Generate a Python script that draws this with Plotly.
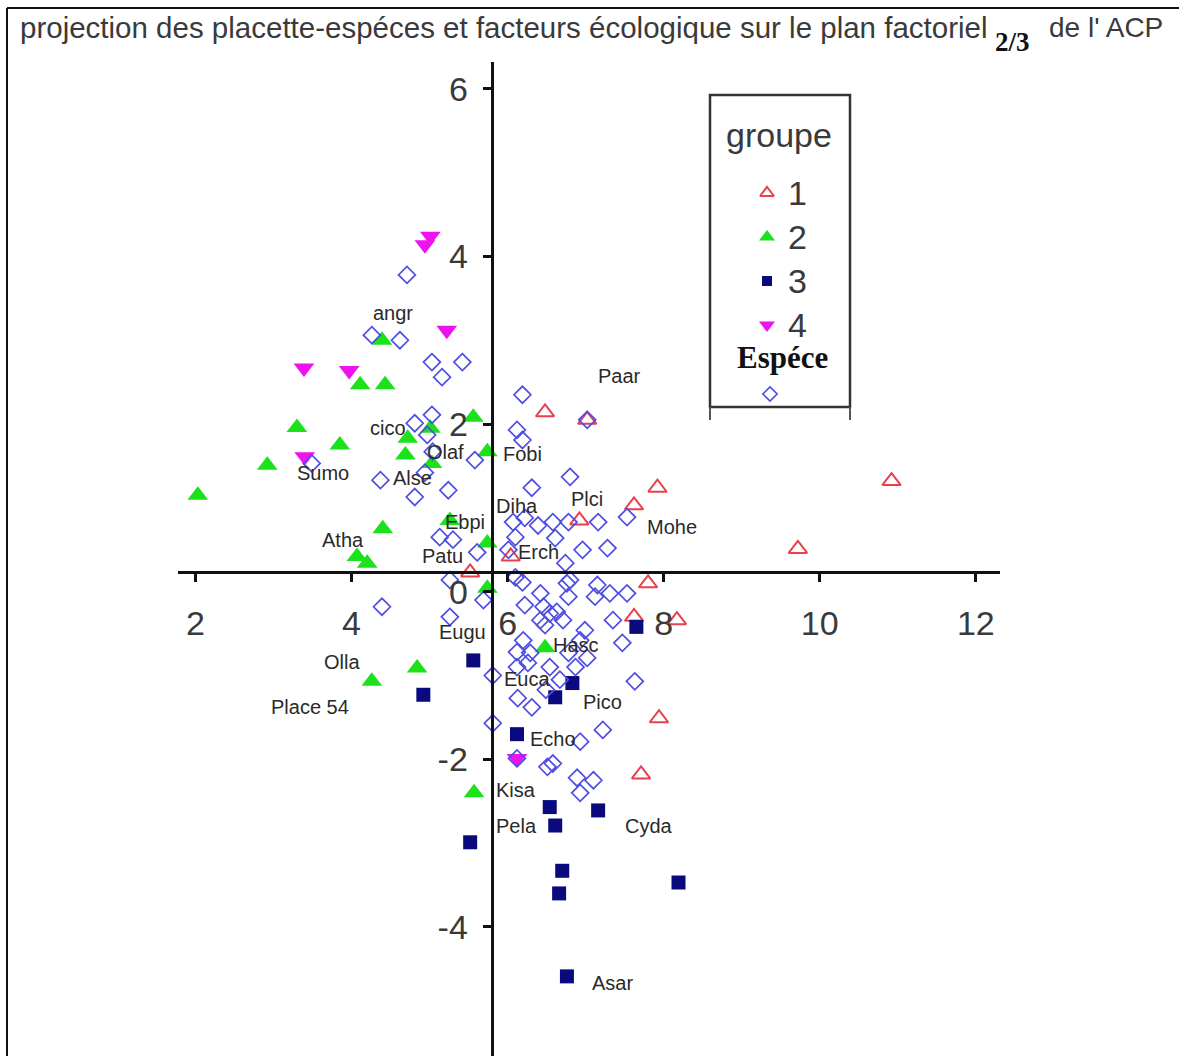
import plotly.graph_objects as go

# ---------------- data : plan factoriel 2/3 ----------------
# groupe 1 (placettes)
g1_x = [6.48, 7.02, 7.62, 7.92, 6.92, 10.92, 9.72, 7.80, 7.62, 8.17, 7.94, 7.71, 6.04, 5.52]
g1_y = [2.14, 2.05, 1.03, 1.24, 0.85, 1.32, 0.51, 0.10, -0.30, -0.34, -1.51, -2.18, 0.42, 0.23]
# groupe 2
g2_x = [2.03, 2.92, 3.30, 3.85, 4.11, 4.43, 4.39, 4.72, 4.69, 5.03, 5.56, 5.74, 4.40, 4.07,
        4.20, 5.26, 5.74, 5.74, 4.84, 4.26, 5.57, 6.48, 5.01]
g2_y = [1.15, 1.51, 1.96, 1.75, 2.47, 2.47, 3.00, 1.83, 1.63, 1.53, 2.08, 1.67, 0.75, 0.42,
        0.34, 0.85, 0.58, 0.04, -0.91, -1.07, -2.40, -0.67, 1.95]
# groupe 3
g3_x = [5.56, 4.92, 6.61, 6.12, 6.54, 6.61, 7.16, 5.52, 6.70, 6.66, 8.19, 6.76, 7.65, 6.83]
g3_y = [-0.82, -1.23, -1.26, -1.70, -2.57, -2.79, -2.61, -2.99, -3.33, -3.60, -3.47, -4.59, -0.42, -1.09]
# groupe 4
g4_x = [4.94, 5.01, 5.22, 3.39, 3.97, 3.40, 6.12]
g4_y = [4.14, 4.24, 3.12, 2.67, 2.64, 1.61, -1.99]

# espèces
sp_x = [4.71, 4.26, 4.62, 5.03, 5.42, 5.16, 4.81, 5.03, 4.97, 5.04, 5.58, 3.49, 4.37, 4.94, 4.81, 5.24,
        6.19, 6.12, 6.19, 6.80, 6.31, 6.07, 6.22, 6.39, 6.58, 6.78, 7.16, 7.53, 6.61, 6.96, 7.28, 5.61,
        6.01, 6.74, 6.80, 6.10,
        5.13, 5.30, 4.39, 5.26, 5.26, 5.69,
        6.10, 6.19, 6.42, 6.76, 6.78, 7.15, 7.31, 7.53, 7.12, 6.46, 6.54, 6.63, 6.42, 6.71, 7.35, 6.48,
        6.99, 7.47, 6.20, 6.29, 6.12, 6.78, 7.02, 6.26, 6.12, 6.54, 6.87, 5.81, 6.67, 7.63, 6.13, 6.31,
        5.81, 7.22, 6.93, 6.51, 6.58, 6.89, 7.10, 6.93, 6.12, 7.02, 6.22, 6.49, 6.93]
sp_y = [3.78, 3.06, 3.00, 2.74, 2.74, 2.56, 2.01, 2.11, 1.87, 1.67, 1.57, 1.53, 1.33, 1.42, 1.13, 1.21,
        2.35, 1.93, 1.81, 1.37, 1.24, 0.83, 0.88, 0.79, 0.83, 0.83, 0.83, 0.89, 0.64, 0.50, 0.52, 0.47,
        0.50, 0.34, 0.14, 0.65,
        0.65, 0.62, -0.18, 0.14, -0.30, -0.10,
        0.17, 0.11, -0.02, 0.10, -0.06, 0.08, -0.02, -0.02, -0.06, -0.18, -0.26, -0.24, -0.34, -0.34,
        -0.34, -0.40, -0.46, -0.61, -0.58, -0.73, -0.72, -0.73, -0.79, -0.85, -0.90, -0.90, -0.90,
        -1.00, -1.05, -1.07, -1.27, -1.38, -1.57, -1.65, -1.79, -2.09, -2.05, -2.22, -2.25, -2.40,
        -1.99, 2.05, -0.16, -1.17, -0.58]

# étiquettes
lab_text = ["angr", "Paar", "cico", "Olaf", "Fobi", "Sumo", "Alse", "Diha", "Plci", "Mohe",
            "Ebpi", "Atha", "Erch", "Patu", "Eugu", "Hasc", "Olla", "Euca", "Pico", "Place 54",
            "Echo", "Kisa", "Pela", "Cyda", "Asar"]
lab_x = [4.53, 7.43, 4.47, 5.20, 6.19, 3.63, 4.78, 6.12, 7.02, 8.11,
         5.46, 3.89, 6.39, 5.17, 5.42, 6.87, 3.88, 6.25, 7.21, 3.47,
         6.58, 6.11, 6.11, 7.81, 7.34]
lab_y = [3.32, 2.57, 1.95, 1.67, 1.64, 1.42, 1.36, 1.02, 1.11, 0.77,
         0.83, 0.62, 0.47, 0.42, -0.48, -0.64, -0.84, -1.04, -1.32, -1.38,
         -1.76, -2.37, -2.80, -2.79, -4.67]

x_ticks = [2, 4, 6, 8, 10, 12]
y_ticks = [-4, -2, 0, 2, 4, 6]

X_RANGE = [1.776, 12.31]
Y_RANGE = [-5.54, 6.32]
X_CROSS = 5.795   # where the vertical axis stands
Y_CROSS = 0.234   # where the horizontal axis stands

# ---------------- layout geometry ----------------
W, H = 1179, 1056
ML, MR, MT, MB = 178, 179, 62, 0
PW, PH = W - ML - MR, H - MT - MB


def pxx(v):
    return (v - ML) / PW


def pxy(v):
    return (H - MB - v) / PH


FONT = "Liberation Sans, Arial, sans-serif"
SERIF = "Liberation Serif, Times New Roman, serif"
TXT = "#3a3a3a"

RED = "#E8404E"
GREEN = "#1BE21B"
NAVY = "#0A0A7E"
MAGENTA = "#EE12EE"
BLUE = "#4E4EE2"

styles = {
    "1": dict(symbol="triangle-up-open", size=16, color=RED, line=dict(width=2, color=RED)),
    "2": dict(symbol="triangle-up", size=18, color=GREEN, line=dict(width=0)),
    "3": dict(symbol="square", size=14, color=NAVY, line=dict(width=0)),
    "4": dict(symbol="triangle-down", size=18, color=MAGENTA, line=dict(width=0)),
    "sp": dict(symbol="diamond-open", size=13, color=BLUE, line=dict(width=1.7, color=BLUE)),
}

fig = go.Figure()
for key, xs, ys in [("1", g1_x, g1_y), ("2", g2_x, g2_y), ("3", g3_x, g3_y), ("4", g4_x, g4_y),
                    ("sp", sp_x, sp_y)]:
    fig.add_trace(go.Scatter(x=xs, y=ys, mode="markers", marker=styles[key],
                             showlegend=False, hoverinfo="skip", cliponaxis=False))

# ---------------- custom legend (drawn on a pixel overlay) ----------------
leg_x0, leg_x1, leg_top, leg_bot = 710, 850, 95, 407
leg_marker_x = 767
leg_rows = [("1", 193), ("2", 237), ("3", 281), ("4", 325)]
for key, ry in leg_rows:
    st = dict(styles[key])
    st["size"] = st["size"] - 4
    fig.add_trace(go.Scatter(x=[leg_marker_x], y=[ry], xaxis="x2", yaxis="y2", mode="markers",
                             marker=st, showlegend=False, hoverinfo="skip"))
st = dict(styles["sp"])
st["size"] = 11
fig.add_trace(go.Scatter(x=[770], y=[394], xaxis="x2", yaxis="y2", mode="markers",
                         marker=st, showlegend=False, hoverinfo="skip"))

annotations = []
for t, x, y in zip(lab_text, lab_x, lab_y):
    annotations.append(dict(x=x, y=y, xref="x", yref="y", text=t, showarrow=False,
                            font=dict(family=FONT, size=20, color="#2a2a2a")))

annotations.append(dict(x=pxx(779), y=pxy(135), xref="paper", yref="paper", text="groupe",
                        showarrow=False, xanchor="center", yanchor="middle",
                        font=dict(family=FONT, size=34, color=TXT)))
for key, ry in leg_rows:
    annotations.append(dict(x=pxx(786), y=pxy(ry), xref="paper", yref="paper", text=key,
                            showarrow=False, xanchor="left", yanchor="middle",
                            font=dict(family=FONT, size=34, color=TXT)))
annotations.append(dict(x=pxx(782), y=pxy(357), xref="paper", yref="paper", text="<b>Espéce</b>",
                        showarrow=False, xanchor="center", yanchor="middle",
                        font=dict(family=SERIF, size=31, color="#111111")))

# title
annotations.append(dict(x=pxx(18), y=pxy(27), xref="paper", yref="paper",
                        text="projection des placette-espéces et facteurs écologique sur le plan factoriel",
                        showarrow=False, xanchor="left", yanchor="middle",
                        font=dict(family=FONT, size=29.5, color=TXT)))
annotations.append(dict(x=pxx(993), y=pxy(42), xref="paper", yref="paper", text="<b>2/3</b>",
                        showarrow=False, xanchor="left", yanchor="middle",
                        font=dict(family=SERIF, size=27, color="#111111")))
annotations.append(dict(x=pxx(1047), y=pxy(27), xref="paper", yref="paper", text="de l' ACP",
                        showarrow=False, xanchor="left", yanchor="middle",
                        font=dict(family=FONT, size=28, color=TXT)))

shapes = [
    # outer frame (top and left edges)
    dict(type="line", xref="paper", yref="paper", x0=pxx(7), x1=pxx(W + 5), y0=pxy(8), y1=pxy(8),
         line=dict(color="#111111", width=2)),
    dict(type="line", xref="paper", yref="paper", x0=pxx(7), x1=pxx(7), y0=pxy(8), y1=pxy(H + 5),
         line=dict(color="#111111", width=2)),
    # legend box
    dict(type="rect", xref="paper", yref="paper", x0=pxx(leg_x0), x1=pxx(leg_x1),
         y0=pxy(leg_bot), y1=pxy(leg_top), line=dict(color="#333333", width=2.5)),
    dict(type="line", xref="paper", yref="paper", x0=pxx(leg_x0), x1=pxx(leg_x0),
         y0=pxy(leg_bot), y1=pxy(leg_bot + 13), line=dict(color="#555555", width=2)),
    dict(type="line", xref="paper", yref="paper", x0=pxx(leg_x1), x1=pxx(leg_x1),
         y0=pxy(leg_bot), y1=pxy(leg_bot + 13), line=dict(color="#555555", width=2)),
]

axis_common = dict(showgrid=False, zeroline=False, showline=True, linecolor="#111111", linewidth=3,
                   ticks="outside", ticklen=8, tickwidth=2.5, tickcolor="#111111",
                   tickfont=dict(family=FONT, size=34, color=TXT), anchor="free")

fig.update_layout(
    width=W, height=H, autosize=False,
    margin=dict(l=ML, r=MR, t=MT, b=MB, pad=0),
    paper_bgcolor="white", plot_bgcolor="white",
    showlegend=False,
    xaxis=dict(range=X_RANGE, tickvals=x_ticks, ticktext=[str(v) for v in x_ticks],
               position=(Y_CROSS - Y_RANGE[0]) / (Y_RANGE[1] - Y_RANGE[0]),
               ticklabelstandoff=12, **axis_common),
    yaxis=dict(range=Y_RANGE, tickvals=y_ticks, ticktext=[str(v) for v in y_ticks],
               position=(X_CROSS - X_RANGE[0]) / (X_RANGE[1] - X_RANGE[0]),
               ticklabelstandoff=8, **axis_common),
    xaxis2=dict(range=[ML, W - MR], overlaying="x", visible=False, fixedrange=True),
    yaxis2=dict(range=[H - MB, MT], overlaying="y", visible=False, fixedrange=True),
    annotations=annotations,
    shapes=shapes,
)

fig.write_html("out.html")
